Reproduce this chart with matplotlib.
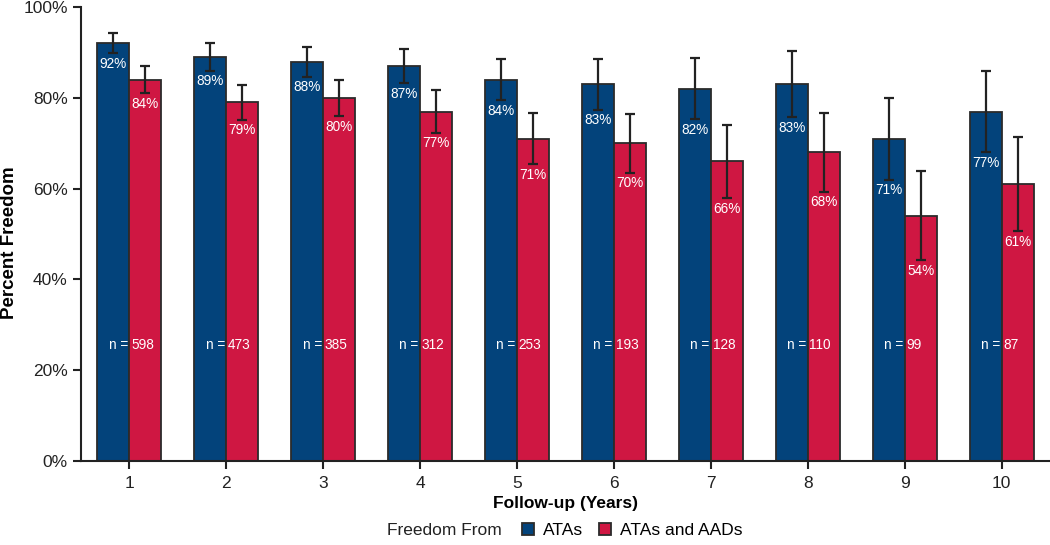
import matplotlib.pyplot as plt
import numpy as np

plt.rcParams['font.family'] = ['Liberation Sans', 'DejaVu Sans']

years = [1, 2, 3, 4, 5, 6, 7, 8, 9, 10]
atas = [92, 89, 88, 87, 84, 83, 82, 83, 71, 77]
atas_err = [2.2, 3, 3.3, 3.7, 4.5, 5.6, 6.7, 7.3, 9, 9]
atas_aads = [84, 79, 80, 77, 71, 70, 66, 68, 54, 61]
atas_aads_err = [3, 3.8, 4, 4.7, 5.6, 6.5, 8.1, 8.7, 9.8, 10.3]
n_pts = [598, 473, 385, 312, 253, 193, 128, 110, 99, 87]

blue = '#03437b'
red = '#cf1742'
edge = '#2b2b2b'

fig = plt.figure(figsize=(10.5, 5.45), dpi=100)
ax = fig.add_axes([0.0771, 0.154, 0.9229, 0.833])

x = np.array(years)
w = 0.33
err_kw = dict(ecolor='#222222', elinewidth=1.6, capsize=3.5, capthick=1.6)
ax.bar(x - w / 2, atas, w, yerr=atas_err, color=blue, edgecolor=edge,
       linewidth=1.3, error_kw=err_kw, label='ATAs')
ax.bar(x + w / 2, atas_aads, w, yerr=atas_aads_err, color=red, edgecolor=edge,
       linewidth=1.3, error_kw=err_kw, label='ATAs and AADs')

for xi, v, e in zip(x, atas, atas_err):
    ax.text(xi - w / 2, v - e - 0.8, f'{v}%', ha='center', va='top',
            color='white', fontsize=9.8)
for xi, v, e in zip(x, atas_aads, atas_aads_err):
    ax.text(xi + w / 2, v - e - 0.8, f'{v}%', ha='center', va='top',
            color='white', fontsize=9.8)
for xi, n in zip(x, n_pts):
    ax.text(xi - 0.015, 25.5, 'n =', ha='right', va='center',
            color='white', fontsize=9.8)
    ax.text(xi + 0.018, 25.5, str(n), ha='left', va='center',
            color='white', fontsize=9.8)

ax.set_xlim(0.5, 10.5)
ax.set_ylim(0, 100)
ax.set_xticks(x)
ax.set_yticks(range(0, 101, 20))
ax.set_yticklabels([f'{t}%' for t in range(0, 101, 20)])
ax.tick_params(axis='both', labelsize=12.5, length=6, width=1.5,
               color='#222222', labelcolor='#222222')
ax.tick_params(axis='x', pad=5)
for s in ['top', 'right']:
    ax.spines[s].set_visible(False)
for s in ['left', 'bottom']:
    ax.spines[s].set_linewidth(1.5)
    ax.spines[s].set_color('#222222')

ax.set_xlabel('Follow-up (Years)', fontsize=12.5, fontweight='bold')
ax.xaxis.set_label_coords(0.5, -0.078)
ax.set_ylabel('Percent Freedom', fontsize=13.5, fontweight='bold')
ax.yaxis.set_label_coords(-0.065, 0.482)

fig.text(0.3686, 0.027, 'Freedom From', fontsize=12.5, va='center', ha='left',
         color='#222222')
fig.legend(loc='center left', bbox_to_anchor=(0.497, 0.027), ncol=2,
           frameon=False, fontsize=12.5, handlelength=0.72, handleheight=0.72,
           handletextpad=0.5, columnspacing=0.9, borderaxespad=0, borderpad=0)

fig.savefig('out.png', dpi=100)
plt.close(fig)
